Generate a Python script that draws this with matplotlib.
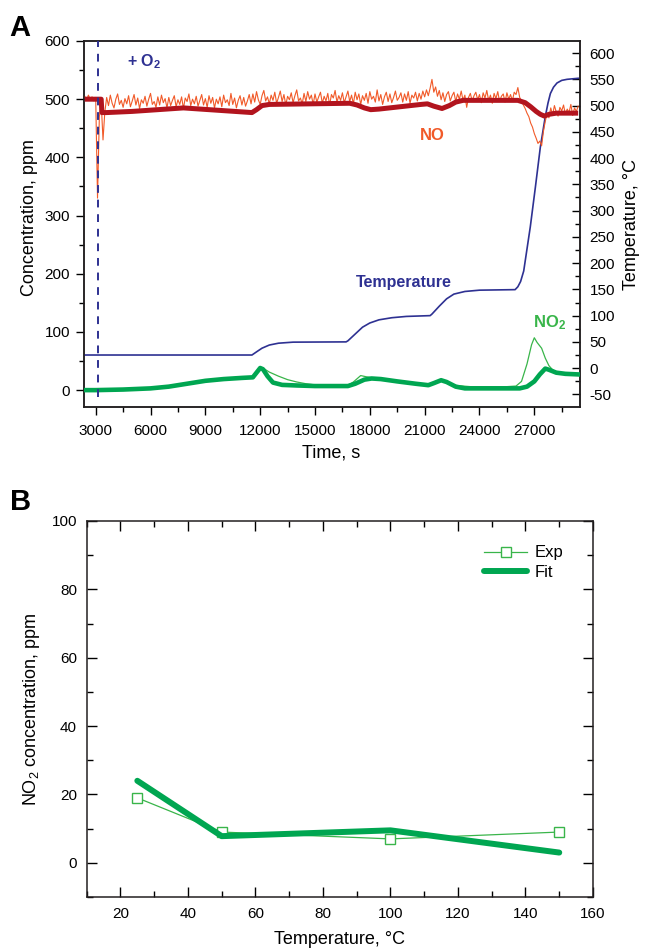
import matplotlib
matplotlib.use("Agg")
import matplotlib.pyplot as plt
import numpy as np
from matplotlib.ticker import MultipleLocator

plt.rcParams['font.family'] = ['Liberation Sans', 'DejaVu Sans']
plt.rcParams['mathtext.fontset'] = 'custom'
plt.rcParams['mathtext.rm'] = 'Liberation Sans'
plt.rcParams['mathtext.it'] = 'Liberation Sans:italic'
plt.rcParams['mathtext.bf'] = 'Liberation Sans:bold'
plt.rcParams['axes.unicode_minus'] = False

# ---------------- Panel A data ----------------
# raw NO signal (ppm), sampled every 100 s from 2400 s
no_raw_t0 = 2400
no_raw_step = 100
no_raw = [
    505, 498, 507, 500, 504, 497, 503, 330, 470, 495, 430, 478,
    503, 489, 507, 493, 485, 500, 509, 491, 498, 486,
    501, 492, 506, 487, 497, 508, 490, 502, 484, 499,
    493, 505, 488, 500, 510, 491, 496, 486, 504, 490,
    507, 494, 501, 485, 503, 489, 498, 506, 487, 499,
    491, 504, 484, 502, 496, 509, 489, 500, 492, 505,
    488, 498, 508, 490, 501, 486, 506, 493, 503, 485,
    500, 492, 504, 487, 507, 494, 499, 489, 510, 491,
    502, 485, 498, 506, 490, 503, 488, 497, 508, 492,
    509, 495, 513, 499, 491, 506, 515, 497, 504, 492,
    507, 498, 512, 493, 503, 514, 496, 508, 490, 505,
    499, 511, 494, 506, 516, 497, 502, 492, 510, 496,
    513, 500, 507, 491, 509, 495, 504, 512, 493, 505,
    497, 510, 490, 508, 502, 515, 495, 506, 498, 511,
    494, 504, 514, 496, 507, 492, 512, 499, 509, 491,
    506, 498, 510, 493, 513, 500, 505, 495, 516, 497,
    508, 491, 504, 512, 496, 509, 494, 503, 514, 498,
    503, 511, 495, 509, 498, 513, 493, 507, 502, 512,
    497, 510, 500, 514, 504, 516, 506, 519, 534, 512,
    521, 505, 515, 499, 511, 496, 508, 513, 497, 506,
    512, 496, 509, 500, 514, 498, 507, 486, 503, 510,
    497, 506, 512, 499, 508, 494, 511, 502, 515, 498,
    507, 493, 510, 501, 513, 496, 505, 509, 495, 511,
    500, 508, 497, 512,
    508, 520, 503, 497, 490, 484, 476, 470, 459, 452,
    441, 433, 424, 428, 420, 445, 462, 476, 468,
    485, 473, 489, 478, 471, 486, 480, 490, 474, 483,
    477, 491, 472, 485, 479, 488,
]

# smoothed / model NO (ppm)
no_fit_t = [2400, 3300, 3340, 3600, 5000, 7800, 11550, 11800, 12100, 12500,
            16900, 17300, 17700, 18050, 18500, 20800, 21150, 21500, 21950,
            22350, 22700, 23100, 26100, 26500, 26800, 27100, 27330, 27550,
            27800, 28200, 29400]
no_fit = [500, 500, 477, 477, 479, 485, 477, 482, 489, 491,
          493, 490, 485, 482, 483, 491, 492, 488, 484,
          489, 495, 498, 498, 494, 487, 479, 474, 471,
          474, 476, 476]

# temperature (degC, right axis)
temp_t = [2400, 11550, 11800, 12100, 12500, 13000, 13800, 16700, 16800,
          17200, 17600, 18000, 18500, 19200, 20000, 21300, 21400, 21800,
          22200, 22600, 23200, 24000, 25950, 26100, 26250, 26420, 26780, 27060,
          27330, 27600, 27750, 27880, 28050, 28240, 28500, 28790, 29400]
temp = [25, 25, 31, 38, 44, 47.5, 49.5, 50, 52,
        65, 78, 86, 92, 96, 98.5, 100, 103, 118,
        132, 141, 146, 148.5, 149.5, 155, 165, 185, 269, 345,
        421, 479, 505, 523, 535, 543, 548, 550, 552]

# NO2 model (thick) and measured (thin), ppm
no2_fit_t = [2400, 3000, 4500, 6000, 7000, 8000, 9000, 10000, 11000, 11600,
             11800, 12000, 12150, 12400, 12700, 13200, 14000, 15000, 16800,
             17200, 17700, 18100, 18600, 19500, 20500, 21200, 21500, 21900,
             22200, 22700, 23200, 26200, 26600, 27000, 27300, 27600, 27800,
             28200, 28700, 29400]
no2_fit = [0, 0, 1, 3, 6, 11, 16, 19, 21, 22,
           30, 38, 36, 24, 13, 9, 8, 7, 7,
           11, 18, 20, 19, 15, 11, 8.5, 12, 17,
           14, 6, 3, 3, 6, 15, 27, 37, 35,
           30, 28, 27]

no2_exp_t = [2400, 3000, 4500, 6000, 7000, 8000, 9000, 10000, 11000, 11600,
             11800, 12000, 12200, 12500, 13000, 13500, 14000, 14500, 15000,
             16000, 16800, 17100, 17500, 17800, 18200, 19000, 20000, 21200,
             21500, 21900, 22200, 22700, 23500, 25500, 26000, 26300, 26600,
             26850, 27000, 27150, 27400, 27600, 27800, 28000, 28300, 29400]
no2_exp = [0, 0, 1, 3, 6, 11, 16, 19, 21, 22,
           30, 35, 37, 31, 24, 18, 14, 11, 9,
           8, 8, 14, 25, 23, 21, 17, 12, 9,
           12, 16, 13, 8, 6, 6, 7, 15, 45,
           78, 90, 82, 72, 55, 42, 35, 30, 27]

o2_time = 3110

# ---------------- Panel B data ----------------
b_temp = [25, 50, 100, 150]
b_exp = [19, 9, 7, 9]
b_fit = [24, 7.8, 9.5, 3]

# ---------------- Colors ----------------
c_noraw = '#f15a29'
c_nofit = '#b2141e'
c_temp = '#2e3192'
c_no2 = '#00a651'
c_no2thin = '#39b54a'

W, H = 646, 949
fig = plt.figure(figsize=(W / 100, H / 100), dpi=100)

def fx(px):
    return px / W

def fy(py):
    return 1 - py / H

# ---------- Panel A ----------
axA = fig.add_axes([fx(84), fy(407), fx(580) - fx(84), fy(41) - fy(407)])
t_raw = no_raw_t0 + no_raw_step * np.arange(len(no_raw))
axA.plot(t_raw, no_raw, color=c_noraw, lw=0.8, zorder=2)
axA.plot(no_fit_t, no_fit, color=c_nofit, lw=3.6, zorder=3, solid_capstyle='butt')
axA.plot(no2_exp_t, no2_exp, color=c_no2thin, lw=0.9, zorder=3)
axA.plot(no2_fit_t, no2_fit, color=c_no2, lw=3.3, zorder=4)
axA.plot([o2_time, o2_time], [-12, 600], color=c_temp, lw=1.4, ls=(0, (4, 3.5)), zorder=5)
axA.set_xlim(2360, 29500)
axA.set_ylim(-29, 600)
axA.xaxis.set_major_locator(MultipleLocator(3000))
axA.xaxis.set_minor_locator(MultipleLocator(1500))
axA.yaxis.set_major_locator(MultipleLocator(100))
axA.yaxis.set_minor_locator(MultipleLocator(50))
axA.tick_params(axis='both', which='major', direction='out', length=6, width=1,
                labelsize=11, pad=4, top=False, right=False)
axA.tick_params(axis='both', which='minor', direction='out', length=3.5, width=1,
                top=False, right=False)
axA.tick_params(axis='x', which='major', pad=6)
for s in axA.spines.values():
    s.set_linewidth(1.1)
    s.set_color('#231f20')

axT = axA.twinx()
axT.plot(temp_t, temp, color=c_temp, lw=1.2, zorder=3)
axT.set_ylim(-74, 623)
axT.yaxis.set_major_locator(MultipleLocator(50))
axT.yaxis.set_minor_locator(MultipleLocator(25))
axT.tick_params(axis='y', which='major', direction='in', length=6, width=1,
                labelsize=11, pad=7)
axT.tick_params(axis='y', which='minor', direction='in', length=3.5, width=1)
for s in axT.spines.values():
    s.set_linewidth(1.1)
    s.set_color('#231f20')
axA.set_zorder(axT.get_zorder() + 1)
axA.patch.set_visible(False)

fig.text(fx(9), fy(36), 'A', fontsize=21, fontweight='bold', ha='left', va='baseline')
fig.text(fx(127), fy(66), r'$\mathbf{+\ O_2}$', fontsize=11.5, color=c_temp,
         ha='left', va='baseline')
fig.text(fx(432), fy(135), 'NO', fontsize=12, fontweight='bold', color=c_noraw,
         ha='center', va='center')
fig.text(fx(404), fy(283), 'Temperature', fontsize=11.5, fontweight='bold', color=c_temp,
         ha='center', va='center')
fig.text(fx(533), fy(327), r'$\mathbf{NO_2}$', fontsize=12, color=c_no2thin,
         ha='left', va='baseline')
fig.text(fx(30), fy(218), 'Concentration, ppm', fontsize=13, rotation=90,
         ha='center', va='center')
fig.text(fx(632), fy(224), 'Temperature, \u00b0C', fontsize=13, rotation=90,
         ha='center', va='center')
fig.text(fx(331), fy(453), 'Time, s', fontsize=13, ha='center', va='center')

# ---------- Panel B ----------
axB = fig.add_axes([fx(86.7), fy(897), fx(593) - fx(86.7), fy(521) - fy(897)])
axB.plot(b_temp, b_exp, color=c_no2thin, lw=0.9, marker='s', ms=7.5,
         mfc='white', mec=c_no2thin, mew=1.0, label='Exp', zorder=3)
axB.plot(b_temp, b_fit, color=c_no2, lw=4.3, solid_capstyle='round',
         solid_joinstyle='round', label='Fit', zorder=4)
axB.set_xlim(10, 160)
axB.set_ylim(-10, 100)
axB.xaxis.set_major_locator(MultipleLocator(20))
axB.xaxis.set_minor_locator(MultipleLocator(10))
axB.yaxis.set_major_locator(MultipleLocator(20))
axB.yaxis.set_minor_locator(MultipleLocator(10))
axB.tick_params(axis='both', which='major', direction='in', length=7.5, width=1,
                labelsize=11, top=True, right=True, pad=7)
axB.tick_params(axis='both', which='minor', direction='in', length=4.5, width=1,
                top=True, right=True)
for s in axB.spines.values():
    s.set_linewidth(1.1)
    s.set_color('#231f20')
leg = axB.legend(loc='upper right', bbox_to_anchor=(0.942, 0.935), frameon=False,
                 fontsize=12, handlelength=2.6, handletextpad=0.45,
                 labelspacing=0.25, borderpad=0, borderaxespad=0)

fig.text(fx(10), fy(510), 'B', fontsize=21, fontweight='bold', ha='left', va='baseline')
fig.text(fx(32), fy(709), r'NO$_2$ concentration, ppm', fontsize=13, rotation=90,
         ha='center', va='center')
fig.text(fx(340), fy(940), 'Temperature, \u00b0C', fontsize=13, ha='center', va='center')

fig.savefig('out.png', dpi=100)
